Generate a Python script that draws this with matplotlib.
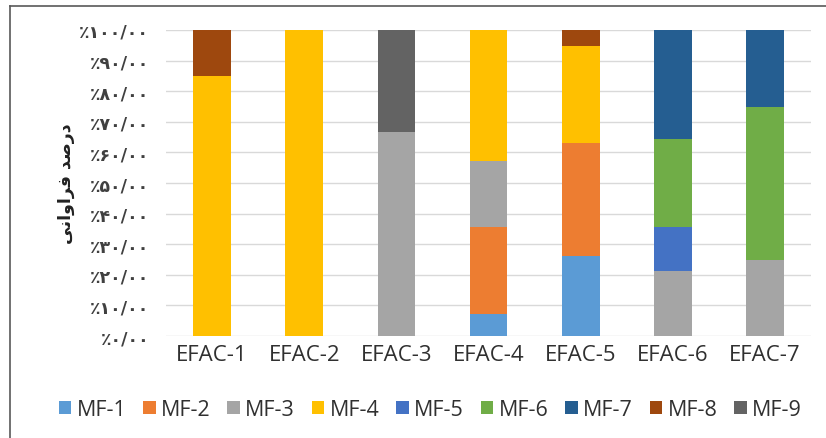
import matplotlib
matplotlib.use("Agg")
import matplotlib.pyplot as plt
import numpy as np
from matplotlib.patches import Patch
from matplotlib.lines import Line2D

categories = ["EFAC-1", "EFAC-2", "EFAC-3", "EFAC-4", "EFAC-5", "EFAC-6", "EFAC-7"]
series_names = ["MF-1", "MF-2", "MF-3", "MF-4", "MF-5", "MF-6", "MF-7", "MF-8", "MF-9"]
colors = ["#5B9BD5", "#ED7D31", "#A5A5A5", "#FFC000", "#4472C4",
          "#70AD47", "#255E91", "#9E480E", "#636363"]

# percent share of each MF within each EFAC
mf1 = [0, 0, 0, 7.1, 26.3, 0, 0]
mf2 = [0, 0, 0, 28.6, 36.8, 0, 0]
mf3 = [0, 0, 66.7, 21.4, 0, 21.4, 25]
mf4 = [85, 100, 0, 42.9, 31.6, 0, 0]
mf5 = [0, 0, 0, 0, 0, 14.3, 0]
mf6 = [0, 0, 0, 0, 0, 28.6, 50]
mf7 = [0, 0, 0, 0, 0, 35.7, 25]
mf8 = [15, 0, 0, 0, 5.3, 0, 0]
mf9 = [0, 0, 33.3, 0, 0, 0, 0]
series = [mf1, mf2, mf3, mf4, mf5, mf6, mf7, mf8, mf9]

persian_digits = str.maketrans("0123456789", "۰۱۲۳۴۵۶۷۸۹")
yticks = np.arange(0, 101, 10)
ytick_labels = ["٪" + f"{v}/00".translate(persian_digits) for v in yticks]

# "درصد فراوانی" in presentation forms, visual (left-to-right) order
ylabel_logical = "\uFEA9\uFEAD\uFEBB\uFEAA \uFED3\uFEAE\uFE8D\uFEED\uFE8D\uFEE7\uFBFD"
ylabel_text = ylabel_logical[::-1]

fig = plt.figure(figsize=(8.26, 4.39), dpi=100)
ax = fig.add_axes([0.201, 0.2323, 0.781, 0.6971])

x = np.arange(len(categories))
bottom = np.zeros(len(categories))
for name, vals, col in zip(series_names, series, colors):
    vals = np.array(vals, dtype=float)
    ax.bar(x, vals, 0.41, bottom=bottom, color=col, label=name, zorder=3)
    bottom += vals

ax.set_xlim(-0.5, len(categories) - 0.5)
ax.set_ylim(0, 100)
ax.set_yticks(yticks)
ax.set_yticklabels(ytick_labels, family=["DejaVu Sans"], fontsize=12.5,
                   fontweight="bold", color="#404040")
ax.set_xticks(x)
ax.set_xticklabels(categories, family=["Open Sans", "DejaVu Sans"], fontsize=16, color="#303030")
ax.tick_params(axis="both", length=0)
ax.tick_params(axis="y", pad=12)
ax.tick_params(axis="x", pad=6)
ax.grid(axis="y", color="#D9D9D9", linewidth=1, zorder=0)
for s in ax.spines.values():
    s.set_visible(False)

ax.set_ylabel(ylabel_text, family=["DejaVu Sans"], fontsize=12.5, fontweight="bold",
              color="#222222", labelpad=3)

handles = [Patch(facecolor=c, edgecolor="none") for c in colors]
fig.legend(handles, series_names, loc="center", bbox_to_anchor=(0.521, 0.064), ncol=9,
           frameon=False, prop={"family": ["Open Sans", "DejaVu Sans"], "size": 15.5},
           handlelength=0.58, handleheight=0.58, handletextpad=0.25, columnspacing=0.78,
           labelcolor="#303030")

# chart area border (left and top edges)
fig.add_artist(Line2D([0.0121, 0.0121], [0, 0.984], transform=fig.transFigure,
                      color="#595959", linewidth=1.2))
fig.add_artist(Line2D([0.0121, 1.0], [0.984, 0.984], transform=fig.transFigure,
                      color="#595959", linewidth=1.2))

fig.savefig("out.png", dpi=100)
